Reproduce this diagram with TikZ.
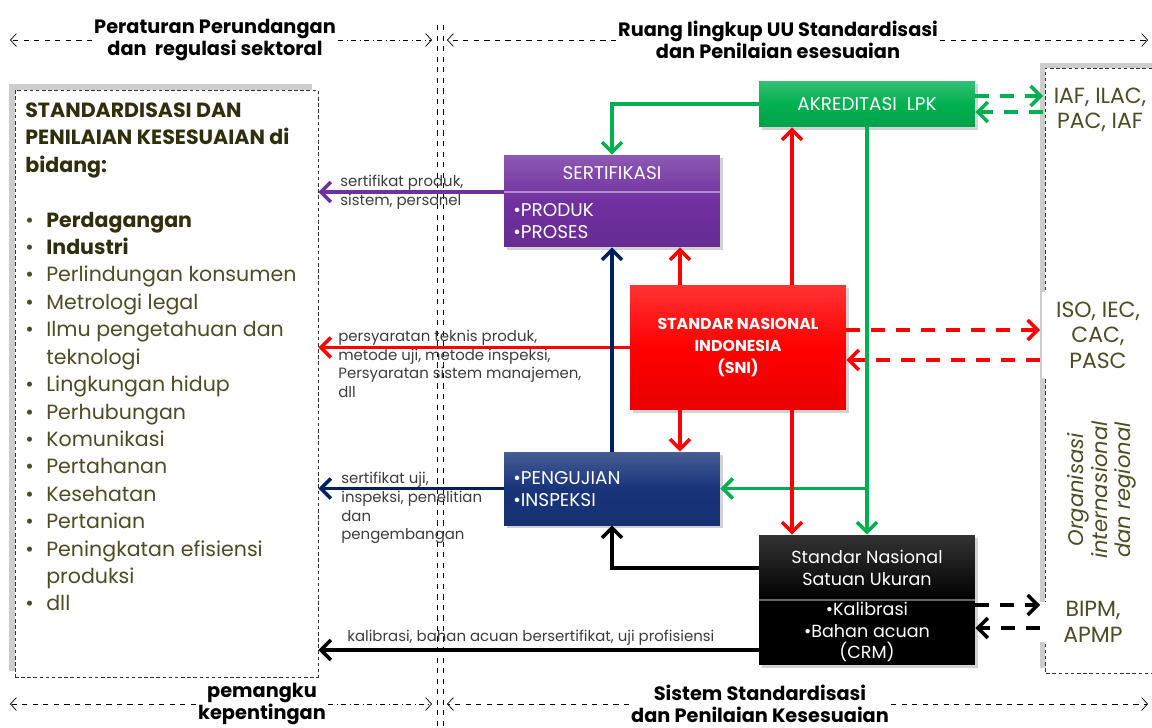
\documentclass[tikz,border=0pt]{standalone}
\usepackage{fontspec}
\setmainfont{Poppins}
\usepackage{tikz}
\usetikzlibrary{arrows.meta,shadows}
\definecolor{sbgreen}{RGB}{0,176,80}
\definecolor{sbpurple}{RGB}{112,48,160}
\definecolor{sbred}{RGB}{255,0,0}
\definecolor{sbnavy}{RGB}{0,32,96}
\definecolor{sbblue}{RGB}{24,52,122}
\definecolor{sbolive}{RGB}{78,76,36}
\definecolor{sbdark}{RGB}{48,46,12}
\definecolor{sbtext}{RGB}{60,60,60}
\definecolor{sbshade}{RGB}{205,205,205}
\tikzset{
  sbBox/.style={draw=none, minimum width=4.32cm, inner sep=0pt, text=white,
                top color=#1!80!white, bottom color=#1!92!black, middle color=#1,
                drop shadow={shadow xshift=1.5pt, shadow yshift=-1.5pt, opacity=0.35}},
  sbBoxText/.style={text=white, inner sep=0pt, align=left,
                    font=\fontsize{10.5}{13}\selectfont},
  sbFlow/.style={-{Straight Barb[length=2mm,width=4mm]}, line width=2pt, draw=#1},
  sbLink/.style={-{Straight Barb[length=2mm,width=4mm]}, line width=2pt, draw=#1,
                 dash pattern=on 2.8mm off 2.2mm},
  sbScope/.style={-{Straight Barb[length=1.2mm,width=2.6mm]}, thin, dashed},
  sbHead/.style={font=\bfseries\fontsize{11}{12.5}\selectfont, align=center, inner sep=1pt},
  sbNote/.style={text=sbtext, align=left, anchor=north west, inner sep=0pt,
                 font=\fontsize{8.5}{10.6}\selectfont},
  sbOrg/.style={text=sbolive, align=center, fill=white, inner sep=0pt,
                font=\fontsize{12.5}{14.5}\selectfont},
  sbFrame/.style={draw=black!80, thin, dash pattern=on 2pt off 1.5pt}
}

\begin{document}
\begin{tikzpicture}[x=0.02cm, y=-0.02cm]
  \useasboundingbox (0,0) rectangle (1152,727);

  % helper columns
  \coordinate (farL) at (10,0);
  \coordinate (splitL) at (432,0);
  \coordinate (splitR) at (447,0);
  \coordinate (farR) at (1148,0);
  \coordinate (colA) at (680,0);
  \coordinate (colB) at (792,0);

  % split between the two scopes
  \draw[thin, dashed] (437,25) -- (437,727);
  \draw[thin, dashed] (443,25) -- (443,727);

  % scope headers
  \node[sbHead] (topLeft) at (215,40) {Peraturan Perundangan\\dan\ \ regulasi sektoral};
  \node[sbHead] (topRight) at (778,40) {Ruang lingkup UU Standardisasi\\dan Penilaian esesuaian};
  \node[sbHead] (botLeft) at (262,704) {pemangku\\kepentingan};
  \node[sbHead] (botRight) at (760,704) {Sistem Standardisasi\\dan Penilaian Kesesuaian};
  \draw[sbScope] (topLeft.west) -- (topLeft.west -| farL);
  \draw[sbScope, dash dot] (topLeft.east) -- (topLeft.east -| splitL);
  \draw[sbScope] (topRight.west) -- (topRight.west -| splitR);
  \draw[sbScope] (topRight.east) -- (topRight.east -| farR);
  \draw[sbScope] (botLeft.west) -- (botLeft.west -| farL);
  \draw[sbScope, dash dot] (botLeft.east) -- (botLeft.east -| splitL);
  \draw[sbScope] (botRight.west) -- (botRight.west -| splitR);
  \draw[sbScope] (botRight.east) -- (botRight.east -| farR);

  % stakeholder fields
  \fill[sbshade] (9,84) rectangle (312,671);
  \node[sbFrame, fill=white, minimum width=6.06cm, minimum height=11.74cm, inner sep=0pt] (fields) at (166.5,383.5) {};
  \node[anchor=north west, inner sep=0pt, text=sbolive,
        font=\fontsize{11.7}{15.6}\selectfont] (fieldsList) at (25,98) {%
    \begin{tabular}{@{}p{0.42cm}@{}l@{}}
      \multicolumn{2}{@{}l@{}}{\color{sbdark}\bfseries STANDARDISASI DAN}\\
      \multicolumn{2}{@{}l@{}}{\color{sbdark}\bfseries PENILAIAN KESESUAIAN di}\\
      \multicolumn{2}{@{}l@{}}{\color{sbdark}\bfseries bidang:}\\
      \\
      \textbullet & {\color{sbdark}\bfseries Perdagangan}\\
      \textbullet & {\color{sbdark}\bfseries Industri}\\
      \textbullet & Perlindungan konsumen\\
      \textbullet & Metrologi legal\\
      \textbullet & Ilmu pengetahuan dan\\
                  & teknologi\\
      \textbullet & Lingkungan hidup\\
      \textbullet & Perhubungan\\
      \textbullet & Komunikasi\\
      \textbullet & Pertahanan\\
      \textbullet & Kesehatan\\
      \textbullet & Pertanian\\
      \textbullet & Peningkatan efisiensi\\
                  & produksi\\
      \textbullet & dll
    \end{tabular}};

  % international and regional bodies
  \fill[sbshade] (1040,63) rectangle (1152,668);
  \draw[sbFrame, fill=white] (1152,68) -- (1045,68) -- (1045,673) -- (1152,673);
  \node[sbOrg] (iafOrg) at (1100,110) {IAF, ILAC,\\PAC, IAF};
  \node[sbOrg, minimum width=2.24cm, minimum height=1.74cm] (isoOrg) at (1098,335) {ISO, IEC,\\CAC,\\PASC};
  \node[sbOrg, rotate=90, font=\itshape\fontsize{12}{13.4}\selectfont] (orgName) at (1102,490) {Organisasi\\internasional\\dan regional};
  \node[sbOrg, minimum width=2.24cm] (bipmOrg) at (1093,622) {BIPM,\\APMP};
  \coordinate (iafIn) at (1043,96);
  \coordinate (iafOut) at (1043,112);
  \coordinate (isoIn) at (1040,330);
  \coordinate (isoOut) at (1040,360);
  \coordinate (bipmIn) at (1040,605);
  \coordinate (bipmOut) at (1040,628);

  % main blocks
  \node[sbBox=sbgreen, minimum height=0.92cm, font=\fontsize{10.5}{13}\selectfont] (akr) at (867,104) {AKREDITASI\ \ LPK};
  \node[sbBox=sbpurple, minimum height=1.84cm] (sert) at (612,201) {};
  \coordinate (cutSert) at (504,192);
  \draw[sbpurple!55!white, line width=1pt] (cutSert) -- (cutSert -| sert.east);
  \node[sbBoxText] (sertHead) at (612,173) {SERTIFIKASI};
  \node[sbBoxText, anchor=west] (sertList) at (513,221) {\textbullet PRODUK\\\textbullet PROSES};
  \node[sbBox=sbred, minimum height=2.5cm, align=center,
        font=\bfseries\fontsize{9}{12.5}\selectfont] (sni) at (738,347.5) {STANDAR NASIONAL\\INDONESIA\\(SNI)};
  \node[sbBox=sbblue, minimum height=1.46cm] (uji) at (612,488.5) {};
  \node[sbBoxText, anchor=west] (ujiList) at (513,489) {\textbullet PENGUJIAN\\\textbullet INSPEKSI};
  \node[sbBox=black, minimum height=2.6cm] (snsu) at (867,600) {};
  \coordinate (cutSnsu) at (759,600);
  \draw[black!60, line width=1pt] (cutSnsu) -- (cutSnsu -| snsu.east);
  \node[sbBoxText, align=center, font=\fontsize{10}{12.2}\selectfont] (snsuHead) at (867,568) {Standar Nasional\\Satuan Ukuran};
  \node[sbBoxText, align=center, font=\fontsize{10}{12.2}\selectfont] (snsuList) at (867,632) {\textbullet Kalibrasi\\\textbullet Bahan acuan\\(CRM)};
  \coordinate (rowCal) at (759,650);

  % outputs to stakeholders
  \node[sbNote] (sertNote) at (340,175) {sertifikat produk,\\sistem, personel};
  \node[sbNote] (sniNote) at (338,330) {persyaratan teknis produk,\\metode uji, metode inspeksi,\\Persyaratan sistem manajemen,\\dll};
  \node[sbNote] (ujiNote) at (341,472) {sertifikat uji,\\inspeksi, penelitian\\dan\\pengembangan};
  \node[sbNote] (calNote) at (347,630) {kalibrasi, bahan acuan bersertifikat, uji profisiensi};
  \draw[sbFlow=sbpurple] (cutSert) -- (cutSert -| fields.east);
  \draw[sbFlow=sbred] (sni.west) -- (sni.west -| fields.east);
  \draw[sbFlow=sbnavy] (uji.west) -- (uji.west -| fields.east);
  \draw[sbFlow=black] (rowCal) -- (rowCal -| fields.east);

  % links inside the system
  \draw[sbFlow=sbgreen] (akr.west) -| (sert.north);
  \draw[sbFlow=sbgreen] (akr.south) -- (snsu.north);
  \draw[sbFlow=sbgreen] (akr.south |- uji.east) -- (uji.east);
  \draw[sbFlow=sbred] (sni.north -| colA) -- (sert.south -| colA);
  \draw[sbFlow=sbred] (sni.north -| colB) -- (akr.south -| colB);
  \draw[sbFlow=sbred] (sni.south -| colA) -- (uji.north -| colA);
  \draw[sbFlow=sbred] (sni.south -| colB) -- (snsu.north -| colB);
  \draw[sbFlow=sbnavy] (uji.north) -- (sert.south);
  \draw[sbFlow=black] (snsu.west |- snsuHead) -| (uji.south);

  % links to the bodies
  \draw[sbLink=sbgreen] (akr.east |- iafIn) -- (iafIn);
  \draw[sbLink=sbgreen] (iafOut) -- (akr.east |- iafOut);
  \draw[sbLink=sbred] (sni.east |- isoIn) -- (isoIn);
  \draw[sbLink=sbred] (isoOut) -- (sni.east |- isoOut);
  \draw[sbLink=black] (snsu.east |- bipmIn) -- (bipmIn);
  \draw[sbLink=black] (bipmOut) -- (snsu.east |- bipmOut);
\end{tikzpicture}
\end{document}
